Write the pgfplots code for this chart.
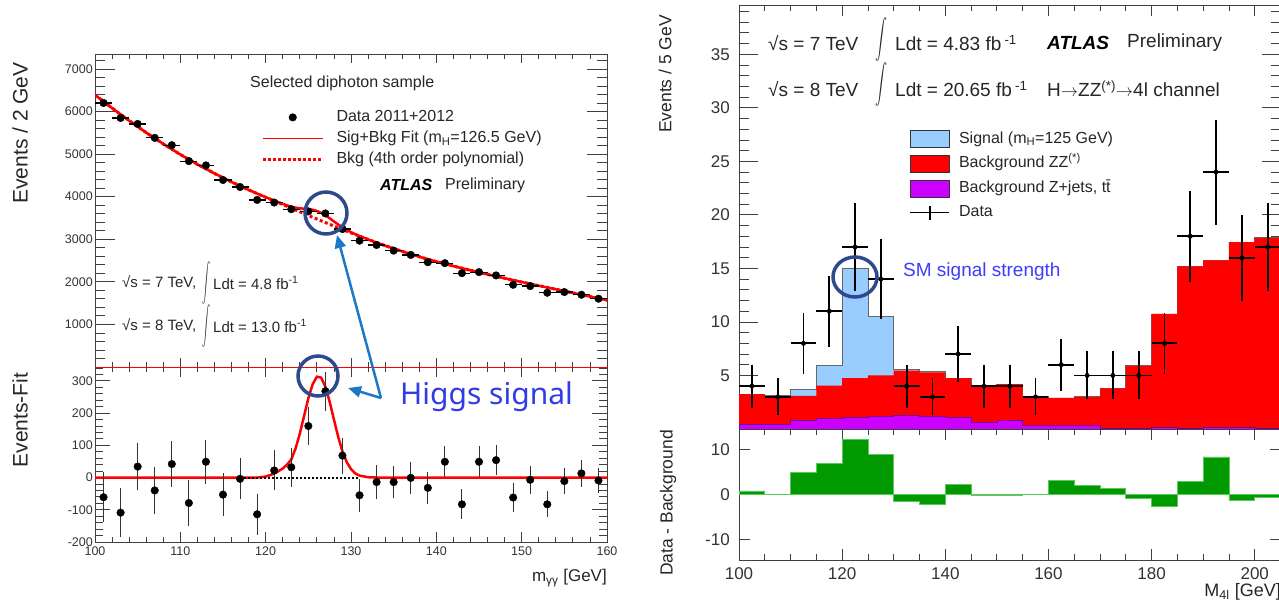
\documentclass[border=0pt]{standalone}
\usepackage{fontspec}
\setmainfont{Liberation Sans}
\newfontfamily\notosans{Noto Sans}
\usepackage{graphicx}
\usepackage{pgfplots}
\pgfplotsset{compat=1.18}
\usetikzlibrary{arrows.meta}

\definecolor{sigblue}{RGB}{153,204,255}
\definecolor{zjets}{RGB}{204,0,255}
\definecolor{dgreen}{RGB}{0,153,0}
\definecolor{lgreen}{RGB}{90,200,90}
\definecolor{circ}{RGB}{45,75,140}
\definecolor{arr}{RGB}{30,120,200}
\definecolor{hig}{RGB}{50,60,230}
\definecolor{smblue}{RGB}{60,60,255}

\newcommand{\fs}[1]{\fontsize{#1}{#1}\selectfont}
\newcommand{\bigint}[2]{\resizebox*{#1}{#2}{$\displaystyle\int$}}

\pgfplotsset{
  rootax/.style={
    scale only axis, anchor=north west, tick align=inside,
    axis line style={black!75, line width=0.8pt},
    tick style={black!75, line width=0.8pt},
    /pgf/number format/assume math mode=true,
    /pgf/number format/1000 sep={},
  },
}

\begin{document}
\begin{tikzpicture}
\useasboundingbox (0pt,0pt) rectangle (1279pt,-600pt);

% ---------------- left: diphoton, upper panel
\begin{axis}[rootax, at={(95pt,-54pt)}, width=512pt, height=313pt,
  xmin=100, xmax=160, ymin=0, ymax=7350,
  xtick={100,110,...,160}, minor x tick num=4, xticklabels={},
  ytick={1000,2000,...,7000}, minor ytick={200,400,...,7200},
  major tick length=20pt, minor tick length=10pt,
  x tick style={/pgfplots/major tick length=9pt, /pgfplots/minor tick length=5pt},
  yticklabel style={font=\fs{12.5}, text=black!80, inner sep=2pt},
  legend style={at={(0.318,0.83)}, anchor=north west, draw=none, fill=none,
    font=\fs{16}, row sep=5pt, column sep=12pt,
    nodes={inner sep=0pt, text height=12pt, text depth=4pt, text=black!85}},
  legend cell align=left,
]
\addlegendimage{legend image code/.code={\fill[black] (30pt,0pt) circle (3.8pt);}}
\addlegendentry{Data 2011+2012}
\addlegendimage{legend image code/.code={\draw[draw=red, line width=1.5pt] (0pt,0pt) -- (60pt,0pt);}}
\addlegendentry{Sig+Bkg Fit (m\textsubscript{H}=126.5 GeV)}
\addlegendimage{legend image code/.code={\draw[draw=red, line width=3.5pt, dash pattern=on 3pt off 2pt] (0pt,0pt) -- (60pt,0pt);}}
\addlegendentry{Bkg (4th order polynomial)}

% background only (4th order polynomial)
\addplot[forget plot, red, line width=3pt, dash pattern=on 3pt off 2.5pt] coordinates {
(100,6390) (102,6080) (104,5785) (106,5505) (108,5240) (110,4990) (112,4760)
(114,4545) (116,4345) (118,4160) (120,3985) (122,3815) (124,3645) (126,3475)
(128,3310) (130,3150) (132,2995) (134,2850) (136,2715) (138,2590) (140,2475)
(142,2370) (144,2270) (146,2175) (148,2085) (150,1995) (152,1910) (154,1825)
(156,1740) (158,1655) (160,1570)};
% signal + background fit
\addplot[forget plot, red, line width=2.5pt] coordinates {
(100,6390) (102,6080) (104,5785) (106,5505) (108,5240) (110,4990) (112,4760)
(114,4545) (116,4345) (118,4160) (120,3987) (121,3907) (122,3832) (122.5,3796)
(123,3762) (123.5,3742) (124,3727) (124.5,3717) (125,3707) (125.5,3692)
(126,3663) (126.5,3620) (127,3561) (127.5,3492) (128,3418) (128.5,3346)
(129,3279) (129.5,3219) (130,3166) (130.5,3119) (131,3076) (132,2995)
(134,2850) (136,2715) (138,2590) (140,2475) (142,2370) (144,2270) (146,2175)
(148,2085) (150,1995) (152,1910) (154,1825) (156,1740) (158,1655) (160,1570)};
% data
\addplot[forget plot, only marks, mark=*, mark size=3.8pt, black,
  error bars/.cd, x dir=both, x fixed=1, error mark=none,
  error bar style={line width=1.2pt}] coordinates {
(101,6200) (103,5848) (105,5708) (107,5381) (109,5209) (111,4835) (113,4734)
(115,4391) (117,4227) (119,3923) (121,3862) (123,3706) (125,3655) (127,3606)
(129,3239) (131,2966) (133,2865) (135,2733) (137,2632) (139,2461) (141,2438)
(143,2204) (145,2228) (147,2150) (149,1931) (151,1900) (153,1744) (155,1760)
(157,1697) (159,1604)};
\end{axis}

% ---------------- left: diphoton, lower panel
\begin{axis}[rootax, at={(95pt,-367pt)}, width=512pt, height=175pt,
  xmin=100, xmax=160, ymin=-200, ymax=343,
  xtick={100,110,...,160}, minor x tick num=4,
  ytick={-200,-100,...,300}, minor ytick={-180,-160,...,340},
  major tick length=15pt, minor tick length=8pt,
  x tick style={/pgfplots/major tick length=10pt, /pgfplots/minor tick length=5pt},
  yticklabel style={font=\fs{12.5}, text=black!80, inner sep=2pt},
  xticklabel style={font=\fs{12.5}, text=black!80, inner sep=5pt},
]
\draw[red, line width=1.2pt] (rel axis cs:0,1) -- (rel axis cs:1,1);
\addplot[red, line width=2.5pt] coordinates {
(100,0) (119,0) (120,3) (121,12) (122,28) (122.5,40) (123,56) (123.5,90)
(124,136) (124.5,191) (125,246) (125.5,289) (126,313) (126.5,310) (127,282)
(127.5,235) (128,180) (128.5,126) (129,81) (129.5,48) (130,26) (130.5,13)
(131,6) (132,1) (133,0) (160,0)};
\addplot[black, line width=2pt, dash pattern=on 2pt off 2pt] coordinates {(117,0) (131,0)};
\addplot[only marks, mark=*, mark size=3.8pt, black,
  error bars/.cd, y dir=both, y explicit, error mark=none,
  error bar style={line width=1pt, black!80}] coordinates {
(101,-61) +- (0,78)  (103,-109) +- (0,76) (105,34) +- (0,74)  (107,-40) +- (0,72)
(109,42) +- (0,71)   (111,-79) +- (0,70)  (113,49) +- (0,68)  (115,-53) +- (0,66)
(117,-4) +- (0,64)   (119,-114) +- (0,63) (121,22) +- (0,62)  (123,32) +- (0,60)
(125,160) +- (0,60)  (127,268) +- (0,60)  (129,68) +- (0,56)  (131,-55) +- (0,52)
(133,-14) +- (0,52)  (135,-14) +- (0,50)  (137,-1) +- (0,50)  (139,-32) +- (0,50)
(141,49) +- (0,48)   (143,-83) +- (0,46)  (145,49) +- (0,48)  (147,54) +- (0,46)
(149,-62) +- (0,44)  (151,-7) +- (0,43)   (153,-83) +- (0,40) (155,-11) +- (0,41)
(157,13) +- (0,41)   (159,-9) +- (0,40)};
\end{axis}

% ---------------- right: H -> ZZ -> 4l, upper panel
\begin{axis}[rootax, at={(739pt,-5pt)}, width=541.5pt, height=424pt,
  xmin=100, xmax=205, ymin=0, ymax=39.6,
  xtick={100,120,...,200}, minor x tick num=3, xticklabels={},
  ytick={5,10,...,35}, minor ytick={1,2,...,39},
  major tick length=19pt, minor tick length=10pt,
  x tick style={/pgfplots/major tick length=11pt, /pgfplots/minor tick length=6pt},
  yticklabel style={font=\fs{17}, text=black!80, inner sep=9pt},
  legend style={at={(0.3085,0.71)}, anchor=north west, draw=none, fill=none,
    font=\fs{16}, row sep=7pt, column sep=9pt,
    nodes={inner sep=0pt, text height=12pt, text depth=4pt, text=black!85}},
  legend cell align=left,
]
\addlegendimage{legend image code/.code={\draw[fill=sigblue, draw=black!80, line width=0.8pt] (0pt,-8.5pt) rectangle (39pt,8.5pt);}}
\addlegendentry{Signal (m\textsubscript{H}=125 GeV)}
\addlegendimage{legend image code/.code={\draw[fill=red, draw=black!80, line width=0.8pt] (0pt,-8.5pt) rectangle (39pt,8.5pt);}}
\addlegendentry{Background ZZ\textsuperscript{(*)}}
\addlegendimage{legend image code/.code={\draw[fill=zjets, draw=black!80, line width=0.8pt] (0pt,-8.5pt) rectangle (39pt,8.5pt);}}
\addlegendentry{Background Z+jets, t\={t}}
\addlegendimage{legend image code/.code={\draw[black, line width=1.8pt] (0pt,0pt) -- (39pt,0pt); \draw[black, line width=1.8pt] (19.5pt,-7pt) -- (19.5pt,7pt);}}
\addlegendentry{Data}

% signal + background (stack total)
\addplot[forget plot, const plot, fill=sigblue, draw=black!60, line width=0.8pt] coordinates {
(100,3.25) (105,3.1) (110,3.7) (115,5.9) (120,15.0) (125,10.5) (130,5.6)
(135,5.35) (140,4.75) (145,4.1) (150,4.2) (155,3.0) (160,2.9) (165,3.0)
(170,3.8) (175,5.9) (180,10.75) (185,15.2) (190,15.75) (195,17.45) (200,17.85)
(205,17.85)} \closedcycle;
% background ZZ (+ Z+jets)
\addplot[forget plot, const plot, fill=red, draw=none] coordinates {
(100,3.25) (105,2.95) (110,3.1) (115,4.05) (120,4.75) (125,5.0) (130,5.45)
(135,5.3) (140,4.75) (145,4.1) (150,4.2) (155,3.0) (160,2.9) (165,3.0)
(170,3.8) (175,5.9) (180,10.75) (185,15.2) (190,15.75) (195,17.45) (200,17.85)
(205,17.85)} \closedcycle;
% background Z+jets, ttbar
\addplot[forget plot, const plot, fill=zjets, draw=zjets!60!black, line width=0.6pt] coordinates {
(100,0.4) (105,0.4) (110,0.8) (115,1.0) (120,1.1) (125,1.2) (130,1.3)
(135,1.2) (140,1.1) (145,0.6) (150,0.8) (155,0.3) (160,0.3) (165,0.3)
(170,0.1) (175,0.1) (180,0.15) (185,0.1) (190,0.15) (195,0.15) (200,0.1)
(205,0.1)} \closedcycle;
% data
\addplot[forget plot, only marks, mark=*, mark size=2.2pt, black,
  error bars/.cd, x dir=both, x fixed=2.5, y dir=both, y explicit, error mark=none,
  error bar style={line width=1.8pt, black}] coordinates {
(102.5,4) +- (0,2)     (107.5,3) +- (0,1.73)  (112.5,8) +- (0,2.83)
(117.5,11) +- (0,3.32) (122.5,17) +- (0,4.12) (127.5,14) +- (0,3.74)
(132.5,4) +- (0,2)     (137.5,3) +- (0,1.73)  (142.5,7) +- (0,2.65)
(147.5,4) +- (0,2)     (152.5,4) +- (0,2)     (157.5,3) +- (0,1.73)
(162.5,6) +- (0,2.45)  (167.5,5) +- (0,2.24)  (172.5,5) +- (0,2.24)
(177.5,5) +- (0,2.24)  (182.5,8) +- (0,2.83)  (187.5,18) +- (0,4.24)
(192.5,24) +- (0,4.9)  (197.5,16) +- (0,4)    (202.5,17) +- (0,4.12)};
\end{axis}

% ---------------- right: lower panel, data - background
\begin{axis}[rootax, at={(739pt,-429pt)}, width=541.5pt, height=131pt,
  xmin=100, xmax=205, ymin=-14.65, ymax=14.65,
  xtick={100,120,...,200}, minor x tick num=3,
  ytick={-10,0,10},
  major tick length=11pt, minor tick length=6pt,
  x tick style={/pgfplots/major tick length=11pt, /pgfplots/minor tick length=6pt},
  yticklabel style={font=\fs{17}, text=black!80, inner sep=9pt},
  xticklabel style={font=\fs{17}, text=black!80, inner sep=7pt},
]
\addplot[const plot, fill=dgreen, draw=lgreen, line width=0.8pt] coordinates {
(100,0.8) (105,0.05) (110,4.9) (115,6.95) (120,12.25) (125,9.0) (130,-1.45)
(135,-2.3) (140,2.25) (145,-0.1) (150,-0.2) (155,0.0) (160,3.1) (165,2.0)
(170,1.3) (175,-0.9) (180,-2.7) (185,2.9) (190,8.4) (195,-1.3) (200,-0.6)
(205,-0.6)} \closedcycle;
\end{axis}

% ---------------- axis titles
\node[rotate=90, text=black!85] at (20pt,-133pt) {\fs{21}Events / 2 GeV};
\node[rotate=90, text=black!85] at (20pt,-420pt) {\fs{21}Events-Fit};
\node[anchor=east, inner sep=0pt, text=black!85] at (607pt,-578pt) {\fs{17}m\textsubscript{γγ} [GeV]};
\node[rotate=90, text=black!85] at (665pt,-74pt) {\fs{17.5}Events / 5 GeV};
\node[rotate=90, text=black!85] at (668pt,-503pt) {\fs{17.5}Data - Background};
\node[anchor=east, inner sep=0pt, text=black!85] at (1281pt,-592pt) {\fs{18}M\textsubscript{4l} [GeV]};

% ---------------- left panel texts
\node[anchor=west, inner sep=0pt, text=black!85] at (250pt,-83pt) {\fs{16}Selected diphoton sample};
\node[anchor=west, inner sep=0pt] at (380pt,-185pt) {\fs{16}\textbf{\textit{ATLAS}}};
\node[anchor=west, inner sep=0pt, text=black!85] at (445pt,-185pt) {\fs{16}Preliminary};
\node[anchor=west, inner sep=0pt, text=black!85] at (122pt,-283pt) {\fs{15}√s = 7 TeV,};
\node[inner sep=0pt, text=black!85] at (206pt,-283pt) {\bigint{8pt}{43pt}};
\node[anchor=west, inner sep=0pt, text=black!85] at (213pt,-283pt) {\fs{15}Ldt = 4.8 fb\textsuperscript{-1}};
\node[anchor=west, inner sep=0pt, text=black!85] at (122pt,-326pt) {\fs{15}√s = 8 TeV,};
\node[inner sep=0pt, text=black!85] at (206pt,-326pt) {\bigint{8pt}{43pt}};
\node[anchor=west, inner sep=0pt, text=black!85] at (213pt,-326pt) {\fs{15}Ldt = 13.0 fb\textsuperscript{-1}};

% ---------------- right panel texts
\node[anchor=west, inner sep=0pt, text=black!85] at (768pt,-43pt) {\fs{19}√s = 7 TeV};
\node[anchor=west, inner sep=0pt, text=black!85] at (768pt,-89pt) {\fs{19}√s = 8 TeV};
\node[inner sep=0pt, text=black!85] at (881pt,-40pt) {\bigint{12pt}{44pt}};
\node[inner sep=0pt, text=black!85] at (881pt,-84pt) {\bigint{12pt}{44pt}};
\node[anchor=west, inner sep=0pt, text=black!85] at (895pt,-43pt) {\fs{19}Ldt = 4.83 fb\,\textsuperscript{-1}};
\node[anchor=west, inner sep=0pt, text=black!85] at (895pt,-89pt) {\fs{19}Ldt = 20.65 fb\,\textsuperscript{-1}};
\node[anchor=west, inner sep=0pt] at (1047pt,-43pt) {\fs{19}\textbf{\textit{ATLAS}}};
\node[anchor=west, inner sep=0pt, text=black!85] at (1127pt,-43pt) {\fs{19}Preliminary};
\node[anchor=west, inner sep=0pt, text=black!85] at (1047pt,-89pt) {\fs{19}H$\rightarrow$ZZ\textsuperscript{(*)}$\rightarrow$4l channel};
\node[anchor=west, inner sep=0pt, text=smblue] at (903pt,-272pt) {\fs{19}SM signal strength};

% ---------------- annotations
\draw[circ, line width=3.5pt] (326pt,-213pt) circle (21pt);
\draw[circ, line width=3.5pt] (318pt,-376pt) circle (20pt);
\draw[circ, line width=3.5pt] (855pt,-277pt) ellipse (22pt and 20pt);
\draw[arr, line width=2.5pt, -{Triangle[length=13pt,width=11pt]}] (381pt,-398pt) -- (337pt,-235pt);
\draw[arr, line width=2.5pt, -{Triangle[length=13pt,width=11pt]}] (381pt,-398pt) -- (348pt,-388pt);
\node[anchor=west, inner sep=0pt, text=hig] at (400pt,-397pt) {\notosans\fs{30}Higgs signal};

\end{tikzpicture}
\end{document}
